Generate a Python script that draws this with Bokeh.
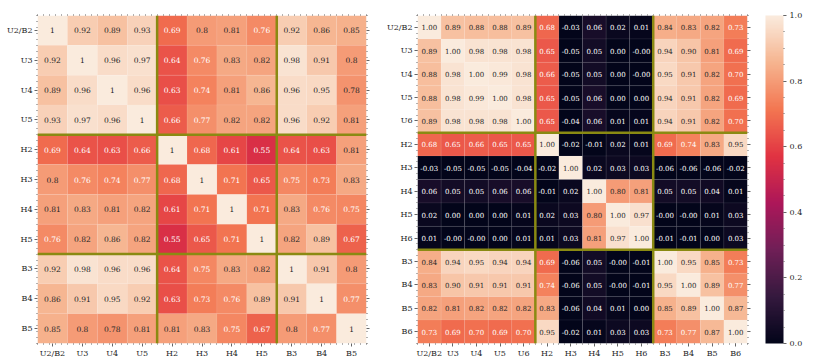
import numpy as np
from bokeh.plotting import figure
from bokeh.models import (ColumnDataSource, LinearColorMapper, ColorBar, FixedTicker,
                          Span, LinearAxis, Range1d, PrintfTickFormatter)
from bokeh.layouts import row
from bokeh.embed import file_html
from bokeh.resources import INLINE
from bokeh.core.properties import value

# ---------------- data ----------------
left_labels = ["U2/B2", "U3", "U4", "U5", "H2", "H3", "H4", "H5", "B3", "B4", "B5"]
left_values = [
    [1, 0.92, 0.89, 0.93, 0.69, 0.8, 0.81, 0.76, 0.92, 0.86, 0.85],
    [0.92, 1, 0.96, 0.97, 0.64, 0.76, 0.83, 0.82, 0.98, 0.91, 0.8],
    [0.89, 0.96, 1, 0.96, 0.63, 0.74, 0.81, 0.86, 0.96, 0.95, 0.78],
    [0.93, 0.97, 0.96, 1, 0.66, 0.77, 0.82, 0.82, 0.96, 0.92, 0.81],
    [0.69, 0.64, 0.63, 0.66, 1, 0.68, 0.61, 0.55, 0.64, 0.63, 0.81],
    [0.8, 0.76, 0.74, 0.77, 0.68, 1, 0.71, 0.65, 0.75, 0.73, 0.83],
    [0.81, 0.83, 0.81, 0.82, 0.61, 0.71, 1, 0.71, 0.83, 0.76, 0.75],
    [0.76, 0.82, 0.86, 0.82, 0.55, 0.65, 0.71, 1, 0.82, 0.89, 0.67],
    [0.92, 0.98, 0.96, 0.96, 0.64, 0.75, 0.83, 0.82, 1, 0.91, 0.8],
    [0.86, 0.91, 0.95, 0.92, 0.63, 0.73, 0.76, 0.89, 0.91, 1, 0.77],
    [0.85, 0.8, 0.78, 0.81, 0.81, 0.83, 0.75, 0.67, 0.8, 0.77, 1],
]

right_labels = ["U2/B2", "U3", "U4", "U5", "U6", "H2", "H3", "H4", "H5", "H6",
                "B3", "B4", "B5", "B6"]
right_values = [
    [1.00, 0.89, 0.88, 0.88, 0.89, 0.68, -0.03, 0.06, 0.02, 0.01, 0.84, 0.83, 0.82, 0.73],
    [0.89, 1.00, 0.98, 0.98, 0.98, 0.65, -0.05, 0.05, 0.00, -0.0, 0.94, 0.90, 0.81, 0.69],
    [0.88, 0.98, 1.00, 0.99, 0.98, 0.66, -0.05, 0.05, 0.00, -0.0, 0.95, 0.91, 0.82, 0.70],
    [0.88, 0.98, 0.99, 1.00, 0.98, 0.65, -0.05, 0.06, 0.00, 0.00, 0.94, 0.91, 0.82, 0.69],
    [0.89, 0.98, 0.98, 0.98, 1.00, 0.65, -0.04, 0.06, 0.01, 0.01, 0.94, 0.91, 0.82, 0.70],
    [0.68, 0.65, 0.66, 0.65, 0.65, 1.00, -0.02, -0.01, 0.02, 0.01, 0.69, 0.74, 0.83, 0.95],
    [-0.03, -0.05, -0.05, -0.05, -0.04, -0.02, 1.00, 0.02, 0.03, 0.03, -0.06, -0.06, -0.06, -0.02],
    [0.06, 0.05, 0.05, 0.06, 0.06, -0.01, 0.02, 1.00, 0.80, 0.81, 0.05, 0.05, 0.04, 0.01],
    [0.02, 0.00, 0.00, 0.00, 0.01, 0.02, 0.03, 0.80, 1.00, 0.97, -0.0, -0.0, 0.01, 0.03],
    [0.01, -0.0, -0.0, 0.00, 0.01, 0.01, 0.03, 0.81, 0.97, 1.00, -0.01, -0.01, 0.00, 0.03],
    [0.84, 0.94, 0.95, 0.94, 0.94, 0.69, -0.06, 0.05, -0.0, -0.01, 1.00, 0.95, 0.85, 0.73],
    [0.83, 0.90, 0.91, 0.91, 0.91, 0.74, -0.06, 0.05, -0.0, -0.01, 0.95, 1.00, 0.89, 0.77],
    [0.82, 0.81, 0.82, 0.82, 0.82, 0.83, -0.06, 0.04, 0.01, 0.00, 0.85, 0.89, 1.00, 0.87],
    [0.73, 0.69, 0.70, 0.69, 0.70, 0.95, -0.02, 0.01, 0.03, 0.03, 0.73, 0.77, 0.87, 1.00],
]

colorbar_ticks = [0.0, 0.2, 0.4, 0.6, 0.8, 1.0]

# "rocket" colormap anchors
rocket_stops = [0.0, 1 / 7, 2 / 7, 3 / 7, 4 / 7, 5 / 7, 6 / 7, 1.0]
rocket_hex = ["#03051a", "#35193e", "#701f57", "#ad1759", "#e13342",
              "#f37651", "#f6b48f", "#faebdd"]

FONT = "DejaVu Serif"
LABEL_COLOR = "#262626"
TICK_COLOR = "#666666"
BLOCK_COLOR = "#8a8a12"
FRAME_H = 328


def hex2rgb(h):
    return np.array([int(h[i:i + 2], 16) for i in (1, 3, 5)], dtype=float)


rocket_rgb = np.array([hex2rgb(h) for h in rocket_hex])


def rocket(v):
    v = min(max(v, 0.0), 1.0)
    return np.array([np.interp(v, rocket_stops, rocket_rgb[:, k]) for k in range(3)])


def to_hex(rgb):
    return "#%02x%02x%02x" % tuple(int(round(c)) for c in rgb)


palette = [to_hex(rocket(t)) for t in np.linspace(0, 1, 256)]
mapper = LinearColorMapper(palette=palette, low=0, high=1)


def text_color(v):
    rgb = rocket(v) / 255.0
    lin = np.where(rgb <= 0.03928, rgb / 12.92, ((rgb + 0.055) / 1.055) ** 2.4)
    lum = 0.2126 * lin[0] + 0.7152 * lin[1] + 0.0722 * lin[2]
    return LABEL_COLOR if lum > 0.408 else "#ffffff"


def heatmap(labels, values, fmt, frame_w, annot_size, minor_per_cell,
            border_left, border_right):
    n = len(labels)
    xs, ys, vals, texts, tcols = [], [], [], [], []
    for r in range(n):
        for c in range(n):
            v = values[r][c]
            xs.append(c + 0.5)
            ys.append(r + 0.5)
            vals.append(v)
            texts.append(fmt(v))
            tcols.append(text_color(v))
    src = ColumnDataSource(dict(x=xs, y=ys, v=vals, t=texts, tc=tcols))

    p = figure(frame_width=frame_w, frame_height=FRAME_H,
               x_range=Range1d(0, n), y_range=Range1d(n, 0),
               x_axis_location=None, y_axis_location=None,
               output_backend="svg", toolbar_location=None,
               min_border_left=border_left, min_border_right=border_right,
               min_border_top=15, min_border_bottom=13)
    p.grid.visible = False
    p.outline_line_color = None

    p.rect(x="x", y="y", width=1, height=1, source=src,
           fill_color={"field": "v", "transform": mapper},
           line_color="white", line_alpha=0.12, line_width=0.5)
    p.text(x="x", y="y", text="t", source=src, text_color="tc",
           text_align="center", text_baseline="middle",
           text_font=value(FONT), text_font_size=annot_size)

    # block separators where the group letter changes
    for i in range(1, n):
        if labels[i][0] != labels[i - 1][0]:
            p.add_layout(Span(location=i, dimension="height", line_color=BLOCK_COLOR,
                              line_width=2.5))
            p.add_layout(Span(location=i, dimension="width", line_color=BLOCK_COLOR,
                              line_width=2.5))

    ticks = [i + 0.5 for i in range(n)]
    minors = list(np.arange(0, n + 1e-9, 1.0 / minor_per_cell))
    overrides = {t: lab for t, lab in zip(ticks, labels)}
    blank = {t: "" for t in ticks}
    for side in ["left", "below", "right", "above"]:
        ax = LinearAxis(ticker=FixedTicker(ticks=ticks, minor_ticks=minors))
        ax.axis_line_color = None
        ax.major_tick_line_color = TICK_COLOR
        ax.minor_tick_line_color = TICK_COLOR
        ax.major_tick_in = 0
        ax.minor_tick_in = 0
        ax.major_tick_out = 3
        ax.minor_tick_out = 1
        ax.major_label_text_font = FONT
        ax.major_label_text_font_size = "8px"
        ax.major_label_text_color = LABEL_COLOR
        if side in ("left", "below"):
            ax.major_label_overrides = overrides
            ax.major_label_standoff = 2
        else:
            ax.major_label_overrides = blank
            ax.major_label_standoff = 0
            if side == "above":
                ax.major_tick_out = 0
        p.add_layout(ax, side)
    return p


p1 = heatmap(left_labels, left_values, lambda v: f"{v:g}", 329, "7.5px", 5, 37, 18)
p2 = heatmap(right_labels, right_values, lambda v: f"{v:.2f}", 330, "7px", 4, 29, 4)

# colour bar in its own narrow figure
p3 = figure(frame_width=18, frame_height=FRAME_H,
            x_range=Range1d(0, 1), y_range=Range1d(0, 1),
            x_axis_location=None, y_axis_location=None,
            output_backend="svg", toolbar_location=None,
            min_border_left=14, min_border_right=30,
            min_border_top=15, min_border_bottom=13)
p3.grid.visible = False
p3.outline_line_color = None

cb = ColorBar(color_mapper=mapper, width=18, height=FRAME_H, padding=0, margin=0,
              location=(0, 0),
              ticker=FixedTicker(ticks=colorbar_ticks,
                                 minor_ticks=list(np.arange(0, 1.0001, 0.05))),
              formatter=PrintfTickFormatter(format="%.1f"),
              major_label_text_font=FONT, major_label_text_font_size="8px",
              major_label_text_color=LABEL_COLOR,
              major_tick_in=0, major_tick_out=3, major_tick_line_color=TICK_COLOR,
              minor_tick_in=0, minor_tick_out=1, minor_tick_line_color=TICK_COLOR,
              label_standoff=3, bar_line_color=None, border_line_color=None,
              background_fill_color=None)
p3.add_layout(cb, "center")

layout = row(p1, p2, p3)
open("out.html", "w").write(file_html(layout, INLINE))
